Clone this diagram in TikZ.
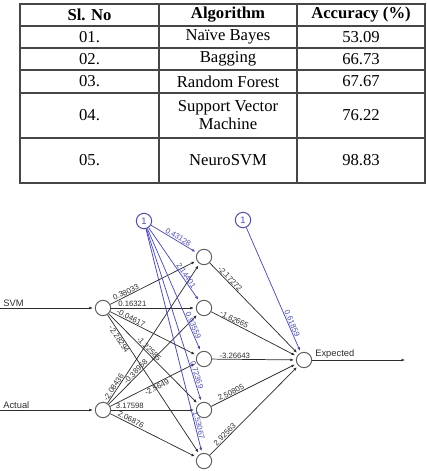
\documentclass[tikz,border=0pt]{standalone}
\usepackage{fontspec}
\setmainfont{Liberation Serif}
\newfontfamily\netfont{Liberation Sans}
\usetikzlibrary{arrows.meta}
\definecolor{biasblue}{RGB}{72,72,205}
\definecolor{rulegray}{RGB}{70,70,70}
\definecolor{wiregray}{RGB}{45,45,45}
\definecolor{ringgray}{RGB}{95,95,95}

\begin{document}
\begin{tikzpicture}[x=0.75pt, y=-0.75pt,
  cell/.style={font=\fontsize{12.5}{13.5}\selectfont, align=center, inner sep=0pt},
  head/.style={cell, font=\fontsize{12.5}{13.5}\selectfont\bfseries},
  neuron/.style={circle, draw=ringgray, line width=0.75pt, minimum size=11.5pt, inner sep=0pt},
  biasnode/.style={neuron, draw=biasblue, text=biasblue, font=\netfont\fontsize{7}{7}\selectfont},
  wire/.style={draw=wiregray, line width=0.55pt, -{Latex[length=2.6pt,width=2.2pt]}, shorten >=1.5pt},
  biaswire/.style={wire, draw=biasblue, -{Latex[length=2.6pt,width=2.2pt,fill=biasblue]}},
  wlabel/.style={sloped, above, inner sep=0.5pt, font=\netfont\fontsize{5.8}{6}\selectfont, text=wiregray},
  blabel/.style={wlabel, text=biasblue},
  iolabel/.style={inner sep=0.8pt, font=\netfont\fontsize{7}{8}\selectfont, text=wiregray}]
  \useasboundingbox (0,0) rectangle (427,471);

  % table
  \draw[rulegray, line width=0.8pt] (20,4) rectangle (425,183);
  \draw[rulegray, line width=0.8pt] (159,4) -- (159,183);
  \draw[rulegray, line width=0.8pt] (297,4) -- (297,183);
  \draw[rulegray, line width=0.8pt] (20,26) -- (425,26);
  \draw[rulegray, line width=0.8pt] (20,48) -- (425,48);
  \draw[rulegray, line width=0.8pt] (20,70) -- (425,70);
  \draw[rulegray, line width=0.8pt] (20,93) -- (425,93);
  \draw[rulegray, line width=0.8pt] (20,138) -- (425,138);
  \node[head] (h-no) at (89.5,15) {Sl. No};
  \node[head] (h-alg) at (228,15) {Algorithm};
  \node[head] (h-acc) at (361,15) {Accuracy (\%)};
  \node[cell] (r1-no) at (89.5,37) {01.};
  \node[cell] (r1-alg) at (228,37) {Naïve Bayes};
  \node[cell] (r1-acc) at (361,37) {53.09};
  \node[cell] (r2-no) at (89.5,59) {02.};
  \node[cell] (r2-alg) at (228,59) {Bagging};
  \node[cell] (r2-acc) at (361,59) {66.73};
  \node[cell] (r3-no) at (89.5,81.5) {03.};
  \node[cell] (r3-alg) at (228,81.5) {Random Forest};
  \node[cell] (r3-acc) at (361,81.5) {67.67};
  \node[cell] (r4-no) at (89.5,115.5) {04.};
  \node[cell] (r4-alg) at (228,115.5) {Support Vector\\Machine};
  \node[cell] (r4-acc) at (361,115.5) {76.22};
  \node[cell] (r5-no) at (89.5,160.5) {05.};
  \node[cell] (r5-alg) at (228,160.5) {NeuroSVM};
  \node[cell] (r5-acc) at (361,160.5) {98.83};

  % network nodes
  \node[biasnode] (b1) at (144,221) {1};
  \node[biasnode] (b2) at (243,220) {1};
  \node[neuron] (svm) at (103,308) {};
  \node[neuron] (act) at (103,410) {};
  \node[neuron] (h1) at (204,257) {};
  \node[neuron] (h2) at (204,308) {};
  \node[neuron] (h3) at (204,359) {};
  \node[neuron] (h4) at (204,410) {};
  \node[neuron] (h5) at (204,461) {};
  \node[neuron] (out) at (304,360) {};
  \coordinate (svm-in) at (0,308);
  \coordinate (act-in) at (0,410);
  \coordinate (out-end) at (405,360);

  % inputs and output
  \draw[wire] (svm-in) -- (svm);
  \draw[wire] (act-in) -- (act);
  \draw[wire, shorten >=0pt] (out) -- (out-end);
  \node[iolabel, anchor=south west] (svm-txt) at (2,308) {SVM};
  \node[iolabel, anchor=south west] (act-txt) at (2,410) {Actual};
  \node[iolabel, anchor=south west] (out-txt) at (314,360) {Expected};

  % SVM -> hidden
  \draw[wire] (svm) -- (h1) node[wlabel, pos=0.2] {0.38033};
  \draw[wire] (svm) -- (h2) node[wlabel, pos=0.25] {0.16321};
  \draw[wire] (svm) -- (h3) node[wlabel, pos=0.22] {-0.04617};
  \draw[wire] (svm) -- (h4) node[wlabel, pos=0.42] {-1.22585};
  \draw[wire] (svm) -- (h5) node[wlabel, below, pos=0.16] {-2.28294};

  % Actual -> hidden
  \draw[wire] (act) -- (h1) node[wlabel, pos=0.1] {-2.08436};
  \draw[wire] (act) -- (h2) node[wlabel, pos=0.33] {-0.38958};
  \draw[wire] (act) -- (h3) node[wlabel, below, pos=0.52] {-2.5649};
  \draw[wire] (act) -- (h4) node[wlabel, pos=0.22] {3.17598};
  \draw[wire] (act) -- (h5) node[wlabel, pos=0.22] {2.06876};

  % bias -> hidden
  \draw[biaswire] (b1) -- (h1) node[blabel, pos=0.55] {0.43128};
  \draw[biaswire] (b1) -- (h2) node[blabel, pos=0.68] {2.14401};
  \draw[biaswire] (b1) -- (h3) node[blabel, pos=0.8] {0.93559};
  \draw[biaswire] (b1) -- (h4) node[blabel, pos=0.85] {0.72369};
  \draw[biaswire] (b1) -- (h5) node[blabel, pos=0.88] {1.53067};

  % hidden -> output
  \draw[wire] (h1) -- (out) node[wlabel, pos=0.2] {-2.17272};
  \draw[wire] (h2) -- (out) node[wlabel, pos=0.25] {-1.62665};
  \draw[wire] (h3) -- (out) node[wlabel, pos=0.27] {-3.26643};
  \draw[wire] (h4) -- (out) node[wlabel, pos=0.25] {2.50805};
  \draw[wire] (h5) -- (out) node[wlabel, pos=0.2] {2.92563};
  \draw[biaswire] (b2) -- (out) node[blabel, pos=0.78] {0.61859};
\end{tikzpicture}
\end{document}
